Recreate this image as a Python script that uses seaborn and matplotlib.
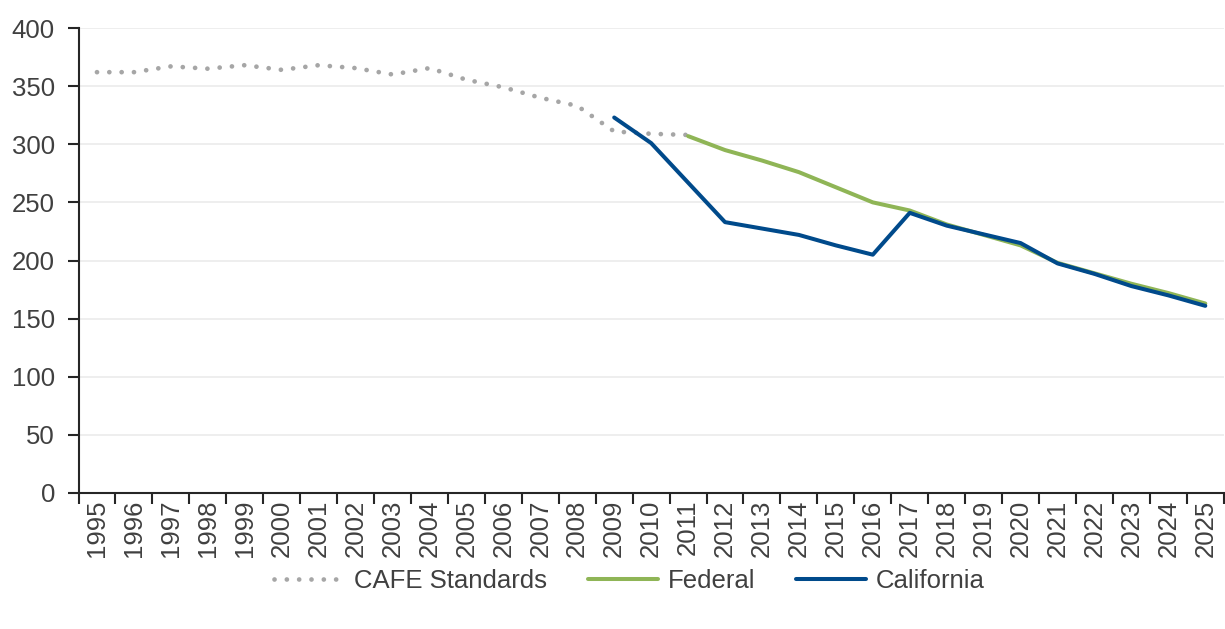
import matplotlib
matplotlib.use("Agg")
import matplotlib.pyplot as plt
import seaborn as sns
import pandas as pd
import numpy as np
from matplotlib.ticker import FixedLocator

years = [str(y) for y in range(1995, 2026)]

cafe_years = [str(y) for y in range(1995, 2012)]
cafe_values = [362, 362, 367, 365, 368, 364, 368, 365.5, 360, 365.5, 355.5,
               349, 340, 333, 311, 309, 308]

federal_years = [str(y) for y in range(2011, 2026)]
federal_values = [307, 295, 286, 276, 263, 250, 243, 231, 222, 213, 198, 189,
                  180, 172, 163]

california_years = [str(y) for y in range(2009, 2026)]
california_values = [323, 301, 267, 233, 227.5, 222, 213, 205, 241, 230, 222.5,
                     215, 197.5, 188.5, 178, 170, 161]

y_ticks = [0, 50, 100, 150, 200, 250, 300, 350, 400]

sns.set_theme(style="white")
plt.rcParams['font.family'] = ['Liberation Sans', 'DejaVu Sans']

pos = {y: i for i, y in enumerate(years)}
cafe_df = pd.DataFrame({"x": [pos[y] for y in cafe_years], "v": cafe_values})
fed_df = pd.DataFrame({"x": [pos[y] for y in federal_years], "v": federal_values})
cal_df = pd.DataFrame({"x": [pos[y] for y in california_years], "v": california_values})

fig = plt.figure(figsize=(12.25, 6.29), dpi=100)
ax = fig.add_axes([78.5 / 1225, 1 - 493 / 629, 1 - 78.5 / 1225 - 0.001, (493 - 28) / 629])

text_color = "#404040"
axis_color = "#262626"
fs = 18.5

sns.lineplot(data=cafe_df, x="x", y="v", ax=ax, color="#A6A6A6", lw=3.4,
             label="CAFE Standards", linestyle=(0, (0.01, 2.6)),
             dash_capstyle="round", zorder=2)
sns.lineplot(data=fed_df, x="x", y="v", ax=ax, color="#8FB556", lw=2.9,
             label="Federal", zorder=3)
sns.lineplot(data=cal_df, x="x", y="v", ax=ax, color="#004A8B", lw=2.9,
             label="California", zorder=4)

ax.set_xlim(-0.5, len(years) - 0.5)
ax.set_ylim(0, 400)
ax.set_xlabel("")
ax.set_ylabel("")

ax.xaxis.set_major_locator(FixedLocator(range(len(years))))
ax.set_xticklabels(years, rotation=90, fontsize=fs, color=text_color)
ax.xaxis.set_minor_locator(FixedLocator(np.arange(-0.5, len(years), 1.0)))
ax.tick_params(axis="x", which="major", length=0, pad=5)
ax.tick_params(axis="x", which="minor", length=8, width=1.5, color=axis_color,
               direction="out", bottom=True)

ax.set_yticks(y_ticks)
ax.set_yticklabels([str(v) for v in y_ticks], fontsize=fs, color=text_color)
ax.tick_params(axis="y", which="major", length=8, width=1.5, color=axis_color,
               direction="out", left=True, pad=9)

ax.grid(axis="y", color="#EBEBEB", lw=1.2)
ax.grid(axis="x", visible=False)
ax.set_axisbelow(True)

for s in ["top", "right"]:
    ax.spines[s].set_visible(False)
for s in ["left", "bottom"]:
    ax.spines[s].set_color(axis_color)
    ax.spines[s].set_linewidth(1.5)

ax.legend_.remove()
handles, labels = ax.get_legend_handles_labels()
leg = fig.legend(handles, labels, loc="center", bbox_to_anchor=(0.514, 1 - 581 / 629),
                 ncol=3, frameon=False, fontsize=fs, handlelength=2.7,
                 handletextpad=0.4, columnspacing=1.6)
for t in leg.get_texts():
    t.set_color(text_color)

fig.savefig("out.png", dpi=100)
